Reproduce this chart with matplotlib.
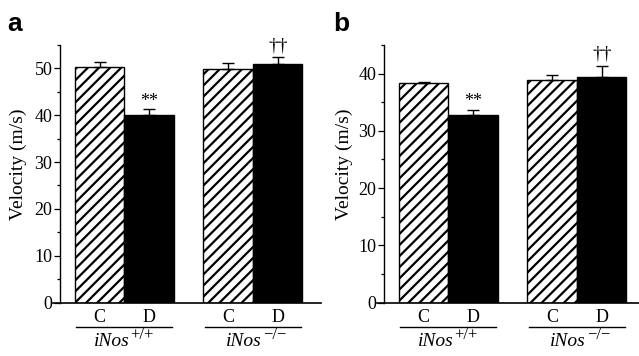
import matplotlib
matplotlib.use("Agg")
import matplotlib.pyplot as plt
import matplotlib.transforms as mtransforms

plt.rcParams['font.family'] = ['Liberation Serif', 'DejaVu Serif']
plt.rcParams['hatch.linewidth'] = 1.6

# data
conditions = ["C", "D", "C", "D"]
genotypes = ["iNos", "iNos"]
superscripts = ["+/+", "\u2212/\u2212"]

vel_a = [50.3, 40.1, 49.9, 51.0]
err_a = [1.1, 1.2, 1.2, 1.4]
vel_b = [38.3, 32.8, 38.9, 39.4]
err_b = [0.3, 0.8, 0.8, 1.9]

# marks: (bar index, text, y value)
marks_a = [(1, "**", 43.0), (3, "\u2020\u2020", 54.7)]
marks_b = [(1, "**", 35.2), (3, "\u2020\u2020", 43.4)]

xpos = [0, 1, 2.6, 3.6]
group_centers = [0.5, 3.1]

fig = plt.figure(figsize=(6.39, 3.56), dpi=100)
W, H = 639, 356


def panel(rect, vals, errs, marks, ymax, yticks, letter, letter_x, ylab_x):
    left, right, top, bottom = rect
    ax = fig.add_axes([left / W, (H - bottom) / H, (right - left) / W, (bottom - top) / H])
    colors = ["white", "black", "white", "black"]
    hatches = ["///", None, "///", None]
    for x, v, c, h in zip(xpos, vals, colors, hatches):
        ax.bar(x, v, width=1.0, color=c, edgecolor="black", linewidth=1.0, hatch=h)
    ax.errorbar(xpos, vals, yerr=[[0] * len(errs), errs], fmt="none", ecolor="black",
                elinewidth=1.0, capsize=4.5, capthick=1.0)
    for i, txt, y in marks:
        fs = 13 if txt == "**" else 14
        ax.text(xpos[i], y, txt, ha="center", va="center", fontsize=fs)

    ax.set_ylim(0, ymax)
    ax.set_xlim(-0.94, (right - left) / 49.5 - 0.94)
    ax.spines["top"].set_visible(False)
    ax.spines["right"].set_visible(False)
    ax.spines["left"].set_position(("data", -0.8))
    ax.spines["left"].set_linewidth(1.0)
    ax.spines["bottom"].set_linewidth(1.2)
    ax.set_xticks([])
    ax.set_yticks(yticks)
    ax.set_yticks([t + 5 for t in yticks], minor=True)
    ax.tick_params(axis="y", which="major", length=4.5, width=0.9, labelsize=13, pad=1)
    ax.tick_params(axis="y", which="minor", length=2.5, width=0.9)

    tr = mtransforms.blended_transform_factory(ax.transData, ax.transAxes)
    hgt = bottom - top
    for x, lab in zip(xpos, conditions):
        ax.text(x, -15.5 / hgt, lab, transform=tr, ha="center", va="center", fontsize=13)
    for k, (gc, g, sup) in enumerate(zip(group_centers, genotypes, superscripts)):
        ax.plot([gc - 0.97, gc + 0.97], [-24.5 / hgt] * 2, transform=tr, color="black",
                linewidth=1.0, clip_on=False)
        shift = (5 if k == 0 else 9) / 1.389
        ax.annotate(g, (gc, -43 / hgt), xycoords=tr, xytext=(shift, 0),
                    textcoords="offset points", ha="right", va="baseline",
                    fontsize=14, style="italic")
        ax.annotate(sup, (gc, -43 / hgt), xycoords=tr, xytext=(shift + 0.5, 5),
                    textcoords="offset points", ha="left", va="baseline", fontsize=12)

    fig.text(ylab_x / W, (H - 164) / H, "Velocity (m/s)", rotation=90,
             ha="center", va="center", fontsize=14)
    fig.text(letter_x / W, (H - 24) / H, letter, ha="left", va="center",
             fontsize=19, fontweight="bold", family="Liberation Sans")
    return ax


panel((53, 321, 45, 302.5), vel_a, err_a, marks_a, 55, [0, 10, 20, 30, 40, 50], "a", 7, 18)
panel((377, 639, 45, 302.5), vel_b, err_b, marks_b, 45, [0, 10, 20, 30, 40], "b", 333, 344)

fig.savefig("out.png", dpi=100)
